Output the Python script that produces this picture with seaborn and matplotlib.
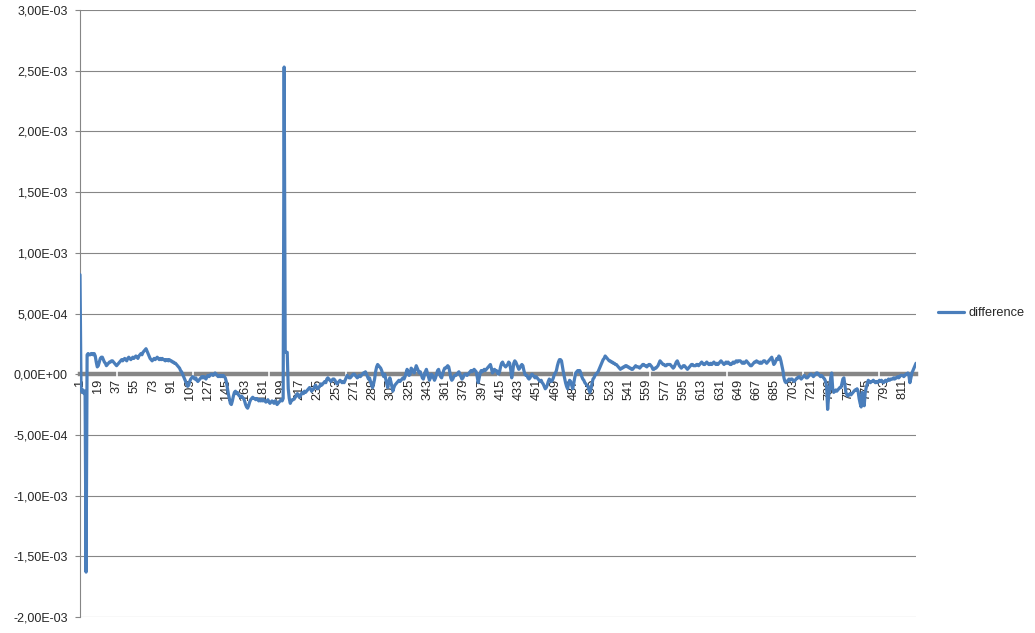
import numpy as np
import pandas as pd
import matplotlib
matplotlib.use("Agg")
import matplotlib.pyplot as plt
import seaborn as sns

# difference per row (units of 1e-5)
diff_e5 = [
    82, -11, -15, -13, -16, -14, -163, 16, 17, 16,
    16, 17, 17, 16, 17, 15, 10, 6, 7, 10,
    13, 14, 14, 12, 10, 9, 7, 8, 9, 10,
    10, 11, 11, 10, 9, 8, 7, 8, 9, 10,
    11, 12, 11, 12, 13, 12, 11, 13, 14, 13,
    12, 13, 14, 13, 14, 15, 14, 13, 15, 16,
    17, 16, 18, 19, 20, 21, 19, 17, 15, 13,
    12, 11, 12, 13, 12, 13, 14, 13, 12, 13,
    12, 13, 12, 12, 11, 12, 12, 11, 12, 11,
    11, 10, 10, 9, 9, 8, 7, 6, 5, 3,
    2, 0, -2, -4, -6, -8, -10, -9, -6, -4,
    -3, -2, -3, -4, -3, -5, -6, -5, -4, -3,
    -2, -3, -2, -3, -4, -2, -1, -2, -1, 0,
    0, -1, 0, 1, 0, -1, -2, -1, -2, -1,
    -2, -1, -2, -3, -6, -11, -16, -20, -24, -25,
    -22, -18, -15, -14, -16, -15, -17, -18, -19, -18,
    -19, -20, -22, -25, -27, -28, -26, -23, -21, -20,
    -19, -20, -20, -21, -20, -21, -22, -21, -22, -21,
    -22, -21, -22, -23, -22, -21, -23, -24, -23, -22,
    -23, -24, -22, -23, -25, -24, -23, -22, -21, -22,
    -20, 253, 19, 18, 18, -12, -20, -24, -22, -21,
    -21, -20, -19, -17, -16, -17, -19, -18, -16, -15,
    -16, -14, -15, -14, -13, -12, -11, -12, -14, -13,
    -12, -10, -9, -11, -12, -11, -10, -8, -9, -8,
    -7, -6, -7, -4, -3, -4, -5, -6, -5, -4,
    -4, -5, -7, -8, -7, -6, -5, -6, -7, -6,
    -7, -5, -3, -1, -2, -3, -3, -2, -1, 0,
    0, -1, -2, -3, -2, -1, -2, -1, 0, 1,
    1, 2, 0, -2, -4, -3, -6, -9, -11, -8,
    -4, 2, 6, 8, 7, 6, 5, 3, 0, -2,
    0, -4, -8, -11, -6, -3, -6, -10, -14, -11,
    -9, -8, -7, -6, -5, -6, -5, -4, -3, -4,
    -2, 1, 4, 2, -1, 0, 5, 4, 2, 1,
    4, 7, 5, 3, 1, 2, 0, -3, -4, -1,
    2, 4, 1, -2, -5, -3, 0, -1, -3, -5,
    -3, 0, 3, 4, 1, -2, -3, 0, 3, 5,
    5, 6, 7, 6, 2, -3, -5, -4, -2, -1,
    -1, 0, 1, 2, 0, -2, -4, -3, -1, 0,
    0, -1, 0, 1, 2, 3, 2, 3, 4, 3,
    2, -2, -7, -3, 1, 3, 2, 3, 4, 3,
    4, 5, 6, 7, 8, 5, 1, 2, 4, 3,
    3, 1, 0, 2, 6, 9, 10, 8, 7, 6,
    7, 8, 10, 9, 4, -3, 2, 9, 11, 10,
    8, 6, 4, 5, 7, 8, 7, 3, 0, -1,
    -1, -3, -4, -3, -1, 0, -1, -2, -3, -2,
    -3, -4, -5, -6, -5, -7, -8, -10, -12, -11,
    -9, -6, -4, -5, -6, -5, -3, 0, 1, 3,
    7, 10, 12, 12, 11, 6, 1, -3, -7, -10,
    -12, -8, -5, -6, -9, -12, -8, -3, 1, 2,
    3, 2, 3, 1, -2, -4, -5, -7, -8, -9,
    -10, -13, -15, -12, -8, -4, -3, -1, 0, 1,
    2, 4, 6, 8, 10, 12, 13, 15, 14, 13,
    12, 11, 11, 10, 10, 9, 9, 8, 8, 7,
    6, 5, 4, 5, 5, 6, 6, 7, 7, 6,
    6, 5, 5, 4, 4, 5, 6, 7, 6, 6,
    6, 5, 6, 7, 8, 8, 7, 7, 6, 7,
    8, 8, 7, 6, 4, 4, 5, 5, 6, 7,
    9, 11, 10, 9, 8, 8, 7, 7, 8, 8,
    8, 8, 7, 6, 5, 6, 8, 10, 11, 9,
    7, 6, 5, 6, 7, 7, 6, 5, 4, 5,
    6, 7, 8, 8, 7, 7, 7, 8, 8, 7,
    8, 9, 10, 9, 8, 8, 9, 10, 9, 8,
    8, 9, 8, 9, 10, 9, 8, 9, 8, 9,
    10, 11, 10, 9, 8, 9, 10, 9, 10, 9,
    8, 8, 9, 10, 9, 10, 11, 10, 11, 11,
    11, 10, 9, 10, 9, 10, 11, 10, 9, 8,
    7, 7, 8, 9, 10, 10, 11, 10, 10, 9,
    10, 9, 10, 11, 11, 10, 9, 10, 11, 12,
    13, 14, 11, 8, 9, 11, 13, 12, 15, 14,
    11, 7, 3, -3, -6, -7, -6, -5, -4, -5,
    -4, -4, -5, -6, -5, -4, -3, -3, -2, -3,
    -4, -3, -2, -1, -2, -3, -3, -2, -1, 0,
    0, -1, -2, -1, 0, 1, 1, 0, -1, -2,
    -1, -2, -3, -4, -6, -10, -29, -18, -12, -3,
    1, -12, -15, -14, -13, -14, -13, -12, -11, -11,
    -8, -4, -3, -9, -15, -17, -18, -17, -16, -17,
    -16, -15, -14, -13, -13, -12, -14, -20, -24, -27,
    -15, -20, -26, -15, -11, -8, -5, -6, -7, -6,
    -6, -5, -6, -7, -6, -7, -6, -5, -6, -5,
    -6, -7, -6, -5, -6, -5, -4, -5, -4, -4,
    -4, -3, -4, -3, -3, -2, -3, -2, -1, -1,
    -1, -2, -1, 0, 0, 1, -1, -7, -3, 1,
    3, 5, 7, 9,
]

diff = np.array(diff_e5) * 1e-5
rows = np.arange(1, len(diff) + 1)
df = pd.DataFrame({"row": rows, "difference": diff})

x_labels = list(range(1, len(diff) + 1, 18))
y_ticks = [k * 5e-4 for k in range(-4, 7)]

sns.set_style("white")
plt.rcParams["font.family"] = ["Liberation Sans", "DejaVu Sans"]

W, H = 1035, 633
fig = plt.figure(figsize=(W / 100, H / 100), dpi=100)
ax = fig.add_axes([80 / W, 1 - 617 / H, (916 - 80) / W, (617 - 10) / H])

grey = "#868686"

sns.lineplot(data=df, x="row", y="difference", ax=ax, color="#4a7ebb",
             lw=2.3, estimator=None, label="difference", zorder=3)

ax.set_xlim(1, len(diff))
ax.set_ylim(-2e-3, 3e-3)
ax.set_xlabel("")
ax.set_ylabel("")

# y axis
ax.set_yticks(y_ticks)
ax.yaxis.set_major_formatter(
    plt.FuncFormatter(lambda v, p: f"{(0.0 if abs(v) < 1e-12 else v):.2E}".replace(".", ",")))
ax.yaxis.grid(True, color=grey, lw=0.8)
ax.tick_params(axis="y", length=3.6, width=0.8, color=grey, direction="out",
               labelsize=9, pad=5.2, left=True)

# category axis sits at zero
ax.spines["top"].set_visible(False)
ax.spines["right"].set_visible(False)
ax.spines["left"].set_color(grey)
ax.spines["left"].set_linewidth(0.8)
ax.spines["bottom"].set_position(("data", 0))
ax.spines["bottom"].set_color(grey)
ax.spines["bottom"].set_linewidth(3.2)

ax.set_xticks(x_labels)
ax.set_xticklabels([str(v) for v in x_labels], rotation=90)
ax.tick_params(axis="x", which="major", length=0, labelsize=9.2, pad=3.5)
ax.set_xticks(np.arange(37.5, len(diff), 75), minor=True)
ax.tick_params(axis="x", which="minor", length=5, width=1.2, color="white",
               direction="inout", bottom=True)
ax.xaxis.set_zorder(2.6)

ax.legend(loc="center left", bbox_to_anchor=((938 - 80) / 836, (617 - 313) / 607),
          frameon=False, fontsize=9.2, handlelength=2.0, handletextpad=0.4,
          borderpad=0, borderaxespad=0)

fig.savefig("out.png", dpi=100)
